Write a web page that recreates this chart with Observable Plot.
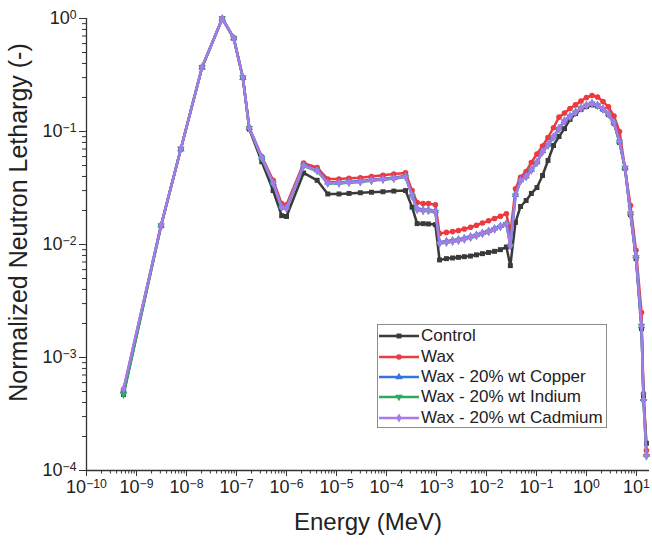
<!DOCTYPE html>
<html><head><meta charset="utf-8">
<script src="https://cdn.jsdelivr.net/npm/d3@7"></script>
<script src="https://cdn.jsdelivr.net/npm/@observablehq/plot@0.6"></script>
<style>
html,body{margin:0;padding:0;background:#fff;}
#wrap{position:relative;width:652px;height:546px;font-family:"Liberation Sans",Arial,sans-serif;}
#legend{position:absolute;left:377px;top:324px;width:230px;height:104px;border:1px solid #8c8c8c;background:#fff;box-sizing:border-box;padding-top:1px;}
.row{display:flex;align-items:center;height:20.4px;font-size:17px;color:#222;white-space:nowrap;}
.row svg{width:42px;height:14px;margin-right:1px;flex:none;}
</style></head><body><div id="wrap"></div>
<script>
// Energy grid (MeV)
const energy = [5.5e-10, 3.1e-9, 7.7e-9, 2.05e-8, 5.2e-8, 8.8e-8, 1.34e-7, 1.8e-7, 3.2e-7, 5.4e-7,
  8.0e-7, 1.0e-6, 2.2e-6, 4.1e-6, 6.7e-6, 1.12e-5, 1.78e-5, 3.0e-5, 5.0e-5, 8.5e-5,
  1.4e-4, 2.4e-4, 3.25e-4, 4.1e-4, 5.4e-4, 6.9e-4, 9.5e-4, 1.15e-3, 1.58e-3, 2.1e-3,
  2.75e-3, 3.6e-3, 4.8e-3, 6.3e-3, 8.3e-3, 1.1e-2, 1.45e-2, 1.9e-2, 2.5e-2, 3.0e-2,
  3.8e-2, 4.8e-2, 6.2e-2, 7.9e-2, 0.102, 0.132, 0.17, 0.219, 0.282, 0.363,
  0.468, 0.603, 0.776, 1.0, 1.29, 1.66, 2.14, 2.75, 3.55, 4.57,
  5.89, 7.59, 9.77, 12.6, 13.8, 15.8];

const control = [4.7e-4, 0.0146, 0.070, 0.37, 1.0, 0.67, 0.30, 0.105, 0.054, 0.030,
  0.018, 0.0177, 0.043, 0.037, 0.028, 0.028, 0.0283, 0.0287, 0.029, 0.0293,
  0.0297, 0.030, 0.0214, 0.0153, 0.0153, 0.0152, 0.0150, 0.0073, 0.0075, 0.0076,
  0.0077, 0.0078, 0.0079, 0.0081, 0.0083, 0.0085, 0.0087, 0.0090, 0.0095, 0.0065,
  0.0157, 0.0217, 0.0245, 0.0283, 0.0319, 0.0408, 0.0554, 0.0752, 0.0903, 0.106,
  0.128, 0.144, 0.157, 0.166, 0.172, 0.168, 0.157, 0.141, 0.118, 0.080,
  0.047, 0.0184, 0.0075, 0.0018, 4.6e-4, 1.74e-4];

const wax = [5.2e-4, 0.0148, 0.070, 0.37, 1.0, 0.67, 0.30, 0.108, 0.060, 0.037,
  0.023, 0.0225, 0.0525, 0.048, 0.038, 0.038, 0.0385, 0.039, 0.040, 0.041,
  0.042, 0.043, 0.030, 0.0235, 0.023, 0.023, 0.0225, 0.0125, 0.0128, 0.0130,
  0.0133, 0.0137, 0.0142, 0.0148, 0.0155, 0.0162, 0.0170, 0.0178, 0.0187, 0.0125,
  0.0311, 0.0394, 0.0443, 0.0532, 0.0632, 0.0744, 0.0885, 0.108, 0.134, 0.146,
  0.160, 0.172, 0.186, 0.200, 0.208, 0.202, 0.184, 0.165, 0.137, 0.100,
  0.047, 0.0221, 0.0089, 0.0025, 4.8e-4, 1.5e-4];

const copper = [5.1e-4, 0.0148, 0.070, 0.37, 1.0, 0.67, 0.30, 0.108, 0.059, 0.035,
  0.0216, 0.0212, 0.0505, 0.0455, 0.0355, 0.0355, 0.036, 0.0365, 0.0374, 0.0382,
  0.039, 0.0405, 0.0274, 0.0208, 0.0203, 0.0203, 0.0198, 0.0105, 0.0107, 0.0109,
  0.0111, 0.0114, 0.0118, 0.0122, 0.0127, 0.0132, 0.0139, 0.0146, 0.0154, 0.0100,
  0.0275, 0.0372, 0.0404, 0.046, 0.0537, 0.067, 0.0766, 0.090, 0.107, 0.125,
  0.137, 0.149, 0.162, 0.171, 0.178, 0.171, 0.159, 0.144, 0.121, 0.082,
  0.0483, 0.019, 0.0079, 0.0019, 4.3e-4, 1.38e-4];

const indium = [4.7e-4, 0.0147, 0.070, 0.37, 1.0, 0.67, 0.30, 0.107, 0.058, 0.0345,
  0.0212, 0.0208, 0.0495, 0.0447, 0.0347, 0.0347, 0.0352, 0.0357, 0.0366, 0.0375,
  0.0382, 0.0396, 0.0268, 0.0203, 0.0198, 0.0198, 0.0193, 0.0102, 0.0104, 0.0106,
  0.0108, 0.0111, 0.0115, 0.0119, 0.0124, 0.0129, 0.0136, 0.0143, 0.0151, 0.0097,
  0.027, 0.0365, 0.0397, 0.0452, 0.0528, 0.066, 0.0755, 0.0888, 0.105, 0.123,
  0.135, 0.147, 0.160, 0.169, 0.176, 0.169, 0.157, 0.142, 0.119, 0.081,
  0.0477, 0.0187, 0.0077, 0.0019, 4.1e-4, 1.34e-4];

const cadmium = [5.3e-4, 0.0148, 0.070, 0.37, 1.0, 0.67, 0.30, 0.108, 0.059, 0.035,
  0.0214, 0.021, 0.050, 0.045, 0.035, 0.035, 0.0355, 0.036, 0.037, 0.0378,
  0.0385, 0.040, 0.027, 0.0205, 0.020, 0.020, 0.0195, 0.0103, 0.0105, 0.0107,
  0.0109, 0.0112, 0.0116, 0.0120, 0.0125, 0.0130, 0.0137, 0.0144, 0.0152, 0.0098,
  0.0272, 0.0368, 0.040, 0.0456, 0.0532, 0.0665, 0.076, 0.0894, 0.106, 0.124,
  0.136, 0.148, 0.161, 0.170, 0.177, 0.170, 0.158, 0.143, 0.120, 0.0816,
  0.048, 0.0188, 0.0078, 0.0019, 4.2e-4, 1.36e-4];

const seriesNames = ["Control", "Wax", "Wax - 20% wt Copper", "Wax - 20% wt Indium", "Wax - 20% wt Cadmium"];
const seriesValues = [control, wax, copper, indium, cadmium];
const seriesColors = ["#3a3a3a", "#ec3a40", "#3474df", "#2fa862", "#a67aeb"];

const xTickValues = [1e-10, 1e-9, 1e-8, 1e-7, 1e-6, 1e-5, 1e-4, 1e-3, 1e-2, 1e-1, 1e0, 1e1];
const xTickLabels = ["10^−10", "10^−9", "10^−8", "10^−7", "10^−6", "10^−5", "10^−4", "10^−3", "10^−2", "10^−1", "10^0", "10^1"];
const yTickValues = [1e-4, 1e-3, 1e-2, 1e-1, 1e0];
const yTickLabels = ["10^−4", "10^−3", "10^−2", "10^−1", "10^0"];
const xDomain = [1e-10, 18.2];
const yDomain = [1e-4, 1];

const sqrt3 = Math.sqrt(3);
const triDown = {draw(ctx, size) {
  const y = Math.sqrt(size / (sqrt3 * 3));
  ctx.moveTo(0, y * 2); ctx.lineTo(-sqrt3 * y, -y); ctx.lineTo(sqrt3 * y, -y); ctx.closePath();
}};
const seriesSymbols = [d3.symbolSquare, d3.symbolCircle, d3.symbolTriangle, triDown, d3.symbolDiamond];

const minorX = [];
for (let p = -10; p <= 1; p++) for (let k = 2; k <= 9; k++) { const v = k * Math.pow(10, p); if (v <= xDomain[1]) minorX.push(v); }
const minorY = [];
for (let p = -4; p < 0; p++) for (let k = 2; k <= 9; k++) minorY.push(k * Math.pow(10, p));

const xFmt = d => xTickLabels[xTickValues.findIndex(v => Math.abs(Math.log10(v) - Math.log10(d)) < 1e-6)] ?? "";
const yFmt = d => yTickLabels[yTickValues.findIndex(v => Math.abs(Math.log10(v) - Math.log10(d)) < 1e-6)] ?? "";

const seriesMarks = seriesNames.flatMap((name, i) => {
  const rows = energy.map((e, j) => ({e, v: seriesValues[i][j]}));
  return [
    Plot.line(rows, {x: "e", y: "v", stroke: seriesColors[i], strokeWidth: 2.5, strokeLinejoin: "round"}),
    Plot.dot(rows, {x: "e", y: "v", fill: seriesColors[i], stroke: "none", symbol: seriesSymbols[i], r: 2.8})
  ];
});

const chart = Plot.plot({
  width: 652, height: 546,
  marginLeft: 86, marginRight: 3, marginTop: 18, marginBottom: 76,
  style: {fontFamily: "'Liberation Sans', Arial, sans-serif", fontSize: "18px", color: "#222", background: "#fff", overflow: "visible"},
  x: {type: "log", domain: xDomain},
  y: {type: "log", domain: yDomain},
  marks: [
    ...seriesMarks,
    Plot.ruleX([xDomain[0]], {stroke: "#333", strokeWidth: 1.3}),
    Plot.ruleY([yDomain[0]], {stroke: "#333", strokeWidth: 1.3}),
    Plot.axisX(xTickValues, {tickSize: 6, tickPadding: 4, tickFormat: xFmt, label: null, stroke: "#333", fontSize: 18}),
    Plot.axisX(minorX, {tickSize: 3.5, tickFormat: () => "", label: null, stroke: "#333"}),
    Plot.axisY(yTickValues, {tickSize: 7, tickPadding: 3, tickFormat: yFmt, label: null, stroke: "#333", fontSize: 18}),
    Plot.axisY(minorY, {tickSize: 4, tickFormat: () => "", label: null, stroke: "#333"}),
    Plot.text(["Energy (MeV)"], {frameAnchor: "bottom", dy: 52, lineAnchor: "middle", textAnchor: "middle", fontSize: 24, fill: "#222"}),
    Plot.text(["Normalized Neutron Lethargy (-)"], {frameAnchor: "left", dx: -68, dy: -22, rotate: -90, lineAnchor: "middle", textAnchor: "middle", fontSize: 25, fill: "#222"})
  ]
});

// render superscripts in tick labels
const ns = "http://www.w3.org/2000/svg";
chart.querySelectorAll('g[aria-label$="tick label"] text').forEach(t => {
  const m = t.textContent.match(/^10\^(.+)$/);
  if (!m) return;
  t.textContent = "";
  const a = document.createElementNS(ns, "tspan"); a.textContent = "10";
  const b = document.createElementNS(ns, "tspan"); b.textContent = m[1];
  b.setAttribute("dy", "-0.45em"); b.setAttribute("font-size", "0.68em");
  t.append(a, b);
});

const wrap = document.getElementById("wrap");
wrap.append(chart);

// legend
const legend = document.createElement("div");
legend.id = "legend";
seriesNames.forEach((name, i) => {
  const row = document.createElement("div");
  row.className = "row";
  const s = d3.create("svg").attr("viewBox", "0 0 42 14");
  s.append("line").attr("x1", 1).attr("x2", 41).attr("y1", 7).attr("y2", 7).attr("stroke", seriesColors[i]).attr("stroke-width", 2.5);
  s.append("path").attr("transform", "translate(21,7)").attr("d", d3.symbol(seriesSymbols[i], 2.8 * 2.8 * Math.PI)()).attr("fill", seriesColors[i]);
  row.append(s.node());
  const span = document.createElement("span");
  span.textContent = name;
  row.append(span);
  legend.append(row);
});
wrap.append(legend);
</script>
</body></html>
